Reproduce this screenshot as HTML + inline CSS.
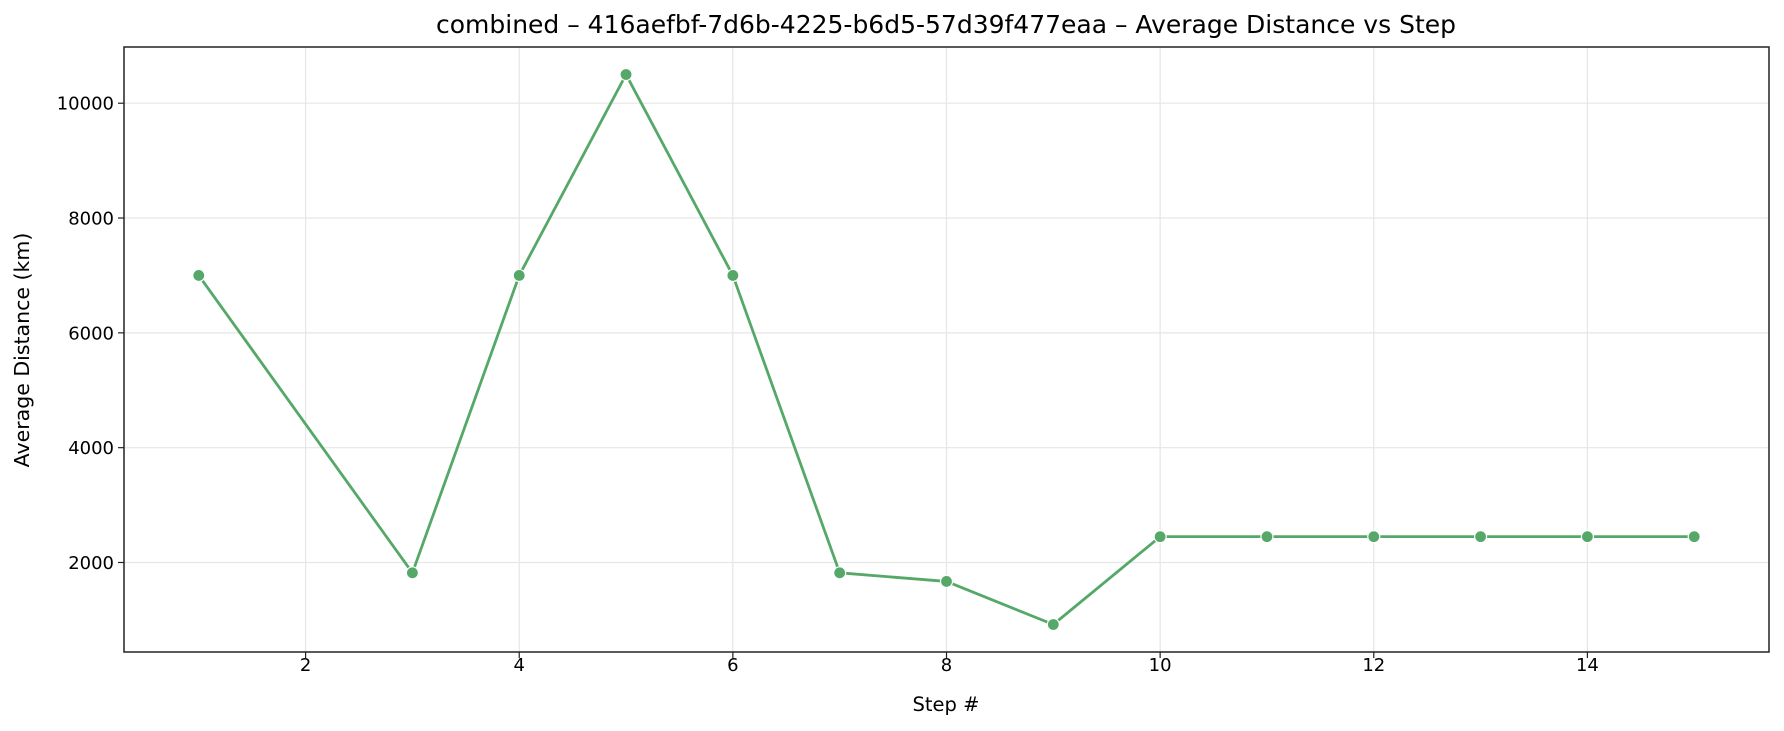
<!DOCTYPE html>
<html><head><meta charset="utf-8">
<style>
html,body{margin:0;padding:0;background:#fff;}
svg{display:block;font-family:"DejaVu Sans","Liberation Sans",sans-serif;}
</style></head>
<body>
<svg id="chart" width="1784" height="731" viewBox="0 0 1784 731">
<rect x="0" y="0" width="1784" height="731" fill="#fff"/>
<g id="grid"></g>
<g id="series"></g>
<g id="axes"></g>
<text x="946" y="33" text-anchor="middle" font-size="25" fill="#000">combined – 416aefbf-7d6b-4225-b6d5-57d39f477eaa – Average Distance vs Step</text>
<text x="946" y="711" text-anchor="middle" font-size="19.5" fill="#000">Step #</text>
<text x="0" y="0" transform="translate(29,350) rotate(-90)" text-anchor="middle" font-size="20.5" fill="#000">Average Distance (km)</text>
</svg>
<script>
const steps = [1,3,4,5,6,7,8,9,10,11,12,13,14,15];
const distances = [7000,1820,7000,10500,7000,1820,1670,920,2450,2450,2450,2450,2450,2450];
const xTicks = [2,4,6,8,10,12,14];
const yTicks = [2000,4000,6000,8000,10000];

const L=124,R=1769,T=47,B=652;
const xMin=0.3,xMax=15.7,yMin=441,yMax=10979;
const NS="http://www.w3.org/2000/svg";
function sx(v){return L+(v-xMin)/(xMax-xMin)*(R-L);}
function sy(v){return B-(v-yMin)/(yMax-yMin)*(B-T);}
function mk(tag,attrs,parent){const e=document.createElementNS(NS,tag);for(const k in attrs)e.setAttribute(k,attrs[k]);parent.appendChild(e);return e;}
const grid=document.getElementById('grid'),axes=document.getElementById('axes'),series=document.getElementById('series');

xTicks.forEach(t=>{
  const x=sx(t);
  const g=mk('line',{x1:x,x2:x,y1:T,y2:B,stroke:'#e6e6e6','stroke-width':1.2},grid);
  
  
  const tk=mk('line',{x1:x,x2:x,y1:B,y2:B+6,stroke:'#222','stroke-width':1.2},axes);
  
  
  const lb=mk('text',{x:x,y:B+19,'text-anchor':'middle','font-size':18,fill:'#000'},axes);
  lb.textContent=t;
  
  
});
yTicks.forEach(t=>{
  const y=sy(t);
  const g=mk('line',{x1:L,x2:R,y1:y,y2:y,stroke:'#e6e6e6','stroke-width':1.2},grid);
  
  
  const tk=mk('line',{x1:L-6,x2:L,y1:y,y2:y,stroke:'#222','stroke-width':1.2},axes);
  
  
  const lb=mk('text',{x:L-10,y:y+6.5,'text-anchor':'end','font-size':18,fill:'#000'},axes);
  lb.textContent=t;
  
  
});
const frame=mk('rect',{x:L,y:T,width:R-L,height:B-T,fill:'none',stroke:'#222','stroke-width':1.5},axes);



const pts=steps.map((s,i)=>sx(s)+','+sy(distances[i])).join(' ');
const line=mk('polyline',{points:pts,fill:'none',stroke:'#55a868','stroke-width':2.8,'stroke-linejoin':'round'},series);


steps.forEach((s,i)=>{
  const c=mk('circle',{cx:sx(s),cy:sy(distances[i]),r:6,fill:'#55a868',stroke:'#fff','stroke-width':1.2},series);
  
  
});
</script>
</body></html>
